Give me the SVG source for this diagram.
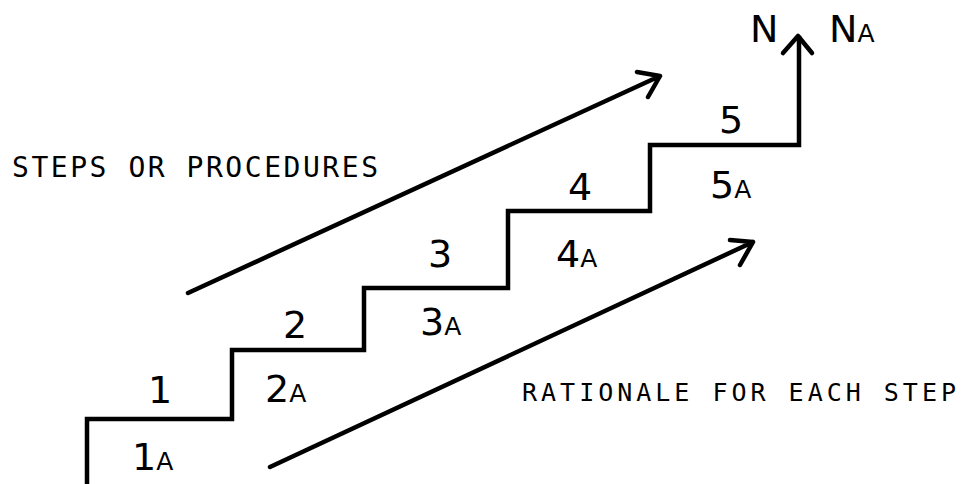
<svg xmlns="http://www.w3.org/2000/svg" width="970" height="484" viewBox="0 0 970 484">
<style>
.stair{fill:none;stroke:#000;stroke-width:4.5;stroke-linejoin:miter;stroke-linecap:square}
.arr{fill:none;stroke:#000;stroke-width:4.5;stroke-linecap:round;stroke-linejoin:round}
.big{font-family:"DejaVu Sans Mono","Liberation Mono",monospace;font-size:28px;fill:#000}
.num{font-family:"DejaVu Sans","Liberation Sans",sans-serif;font-size:38px;fill:#000}
.sub{font-size:25px}
.cap{font-family:"DejaVu Sans Mono","Liberation Mono",monospace;font-size:25px;fill:#000}
</style>
<rect width="970" height="484" fill="#fff"/>
<g id="connectors">
<path id="staircase" class="stair" d="M87,486 V419 H232 V350 H364 V288 H508 V211 H650 V145 H799 V38"/>
<path class="arr" d="M783,53 L798,36 L812,53"/>
<path id="steps-arrow" class="arr" d="M188,293 L660,76 M637,72 L660,76 L648,97"/>
<path id="rationale-arrow" class="arr" d="M270,467 L753,242 M730,240 L753,242 L740,265"/>
</g>
<g id="label-steps"><text class="big" x="12" y="177" textLength="366" lengthAdjust="spacing">STEPS OR PROCEDURES</text></g>
<g id="label-rationale"><text class="cap" x="522" y="401" textLength="434" lengthAdjust="spacing">RATIONALE FOR EACH STEP</text></g>
<g id="step1"><text class="num" x="160" y="403" text-anchor="middle">1</text><text class="num" x="132" y="470">1<tspan class="sub">A</tspan></text></g>
<g id="step2"><text class="num" x="295" y="338" text-anchor="middle">2</text><text class="num" x="265" y="402">2<tspan class="sub">A</tspan></text></g>
<g id="step3"><text class="num" x="440" y="267" text-anchor="middle">3</text><text class="num" x="420" y="335">3<tspan class="sub">A</tspan></text></g>
<g id="step4"><text class="num" x="580" y="200" text-anchor="middle">4</text><text class="num" x="556" y="267">4<tspan class="sub">A</tspan></text></g>
<g id="step5"><text class="num" x="731" y="133" text-anchor="middle">5</text><text class="num" x="710" y="198">5<tspan class="sub">A</tspan></text></g>
<g id="goal"><text class="num" x="750" y="42">N</text><text class="num" x="829" y="42">N<tspan class="sub">A</tspan></text></g>
</svg>
